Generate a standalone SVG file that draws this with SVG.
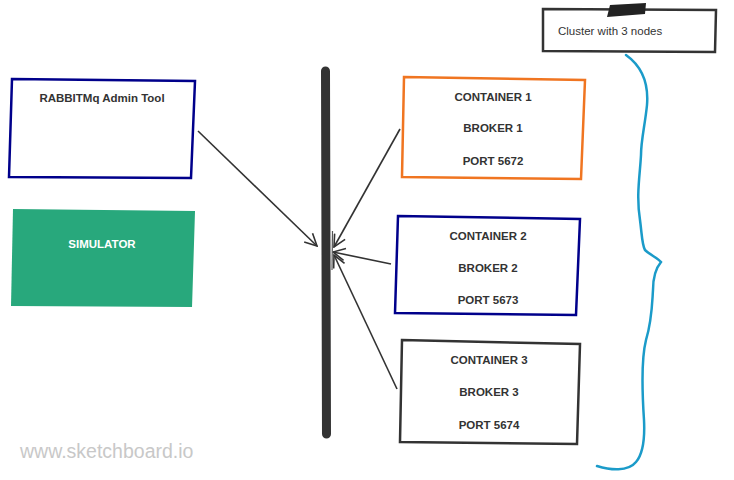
<svg xmlns="http://www.w3.org/2000/svg" width="734" height="480" viewBox="0 0 734 480">
<defs>
<style>
.t{font-family:"Liberation Sans",Arial,sans-serif;font-size:11.5px;font-weight:bold;fill:#333;text-anchor:middle}
.box{fill:#fff;stroke-width:2.5;stroke-linejoin:miter}
.conn{stroke:#333;stroke-width:1.6;fill:none}
</style>
<marker id="ah" viewBox="0 0 14 14" refX="13" refY="7" markerWidth="14" markerHeight="14" markerUnits="userSpaceOnUse" orient="auto">
<path d="M1,1 L13,7 L1,13" fill="none" stroke="#333" stroke-width="1.6"/>
</marker>
</defs>
<rect width="734" height="480" fill="#fff"/>
<g id="cluster">
<polygon class="box" points="543,9 716,10 715,52 543,51" stroke="#333" stroke-width="3"/>
<path d="M610,5 L646,3 L645,14 L607,17 Z" fill="#222"/>
<text x="558" y="35" style="font-family:'Liberation Sans',Arial,sans-serif;font-size:11.5px;fill:#333">Cluster with 3 nodes</text>
</g>
<g id="admin">
<polygon class="box" points="12,79 195,81 191,178 9,177" stroke="#00008b"/>
<text class="t" x="102" y="102">RABBITMq Admin Tool</text>
</g>
<g id="simulator">
<polygon points="13,209 195,211 192,307 11,306" fill="#28a87c"/>
<text class="t" x="102" y="248" style="fill:#fff">SIMULATOR</text>
</g>
<g id="bus">
<line x1="325.5" y1="71" x2="326.5" y2="434" stroke="#333" stroke-width="9" stroke-linecap="round"/>
</g>
<g id="container1">
<polygon class="box" points="404,77 585,80 581,179 402,177" stroke="#f07521"/>
<text class="t" x="493" y="101">CONTAINER 1</text>
<text class="t" x="493" y="132">BROKER 1</text>
<text class="t" x="493" y="165">PORT 5672</text>
</g>
<g id="container2">
<polygon class="box" points="398,216 580,219 576,315 395,313" stroke="#00008b"/>
<text class="t" x="488" y="240">CONTAINER 2</text>
<text class="t" x="488" y="272">BROKER 2</text>
<text class="t" x="488" y="304">PORT 5673</text>
</g>
<g id="container3">
<polygon class="box" points="402,340 580,344 577,444 400,442" stroke="#333"/>
<text class="t" x="489" y="364">CONTAINER 3</text>
<text class="t" x="489" y="396">BROKER 3</text>
<text class="t" x="489" y="429">PORT 5674</text>
</g>
<g id="connectors">
<line class="conn" x1="198" y1="131" x2="317" y2="246" marker-end="url(#ah)"/>
<line class="conn" x1="400" y1="129" x2="334" y2="247" marker-end="url(#ah)"/>
<line class="conn" x1="391" y1="264" x2="333" y2="252" marker-end="url(#ah)"/>
<line class="conn" x1="397" y1="389" x2="334" y2="255" marker-end="url(#ah)"/>
<line x1="332.5" y1="231" x2="332" y2="270" stroke="#555" stroke-width="1.2"/>
</g>
<g id="brace">
<path d="M626,55 C640,65 649,80 647,105 C645,125 641,140 641,155 C640,175 636,195 640,220 C642,235 642,245 645,250 C650,255 658,258 661,262 C656,268 653,275 653,290 C652,305 652,320 646,340 C641,360 642,390 644,420 C645,440 642,455 636,462 C628,472 610,470 597,466" fill="none" stroke="#1b9bc9" stroke-width="2.5" stroke-linecap="round"/>
</g>
<text x="20" y="458" style="font-family:'Liberation Sans',Arial,sans-serif;font-size:19.5px;fill:#c8c8c8">www.sketchboard.io</text>
</svg>
